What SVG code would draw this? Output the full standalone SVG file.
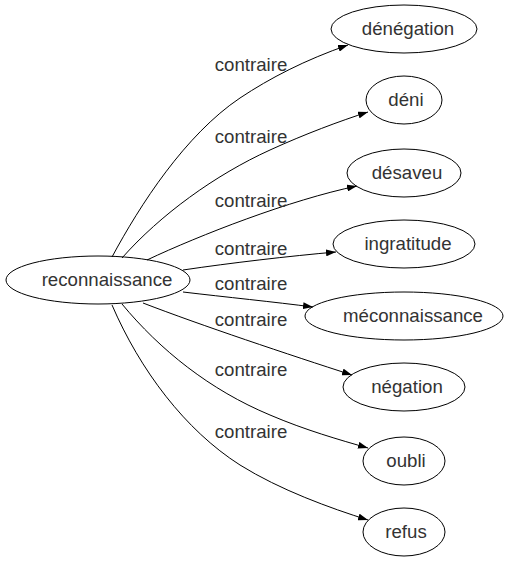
<svg xmlns="http://www.w3.org/2000/svg" width="509" height="563" viewBox="0 0 509 563">
<style>
  .node ellipse { fill: none; stroke: #000; stroke-width: 1; }
  text { font-family: "Liberation Sans", Arial, sans-serif; font-size: 18.67px; fill: #333; }
  .nt { text-anchor: middle; }
  .lbl { text-anchor: middle; }
  .edges path { fill: none; stroke: #000; stroke-width: 1; marker-end: url(#arrow); }
</style>
<defs>
  <marker id="arrow" markerUnits="userSpaceOnUse" markerWidth="10" markerHeight="7" viewBox="0 0 10 7" refX="10" refY="3.5" orient="auto">
    <path d="M0,0 L10,3.5 L0,7 z" fill="#000"/>
  </marker>
</defs>
<rect width="509" height="563" fill="#fff"/>
<g class="edges" id="edges">
  <path d="M112,257 C140,205 185,135 240,98 C270,78 305,60 348,45"/>
  <path d="M122,258 C160,215 215,175 270,150 C305,134 340,121 368,112"/>
  <path d="M147,260 C200,235 290,200 357,186"/>
  <path d="M183,270 C230,263 290,256 336,252"/>
  <path d="M183,292 C225,297 275,302 313,307"/>
  <path d="M143,303 C200,325 290,355 352,375"/>
  <path d="M122,304 C160,350 210,390 270,415 C305,430 340,440 368,448"/>
  <path d="M112,305 C140,370 185,430 240,465 C280,490 330,508 368,520"/>
  <text class="lbl" x="251" y="71">contraire</text>
  <text class="lbl" x="251" y="143">contraire</text>
  <text class="lbl" x="251" y="207">contraire</text>
  <text class="lbl" x="251" y="255">contraire</text>
  <text class="lbl" x="251" y="290">contraire</text>
  <text class="lbl" x="251" y="326">contraire</text>
  <text class="lbl" x="251" y="376">contraire</text>
  <text class="lbl" x="251" y="438">contraire</text>
</g>
<g class="node" id="reconnaissance"><ellipse cx="98" cy="280" rx="92" ry="24"/><text class="nt" x="107" y="286">reconnaissance</text></g>
<g class="node" id="denegation"><ellipse cx="404" cy="29" rx="73" ry="24"/><text class="nt" x="408" y="35">dénégation</text></g>
<g class="node" id="deni"><ellipse cx="404" cy="100" rx="38" ry="24"/><text class="nt" x="406" y="106">déni</text></g>
<g class="node" id="desaveu"><ellipse cx="404" cy="173" rx="57" ry="24"/><text class="nt" x="407" y="179">désaveu</text></g>
<g class="node" id="ingratitude"><ellipse cx="404" cy="244" rx="71" ry="24"/><text class="nt" x="408" y="250">ingratitude</text></g>
<g class="node" id="meconnaissance"><ellipse cx="404" cy="316" rx="99" ry="24"/><text class="nt" x="413" y="322">méconnaissance</text></g>
<g class="node" id="negation"><ellipse cx="404" cy="387" rx="61" ry="24"/><text class="nt" x="407" y="393">négation</text></g>
<g class="node" id="oubli"><ellipse cx="404" cy="461" rx="41" ry="24"/><text class="nt" x="406" y="467">oubli</text></g>
<g class="node" id="refus"><ellipse cx="404" cy="532" rx="41" ry="24"/><text class="nt" x="406" y="538">refus</text></g>
</svg>
